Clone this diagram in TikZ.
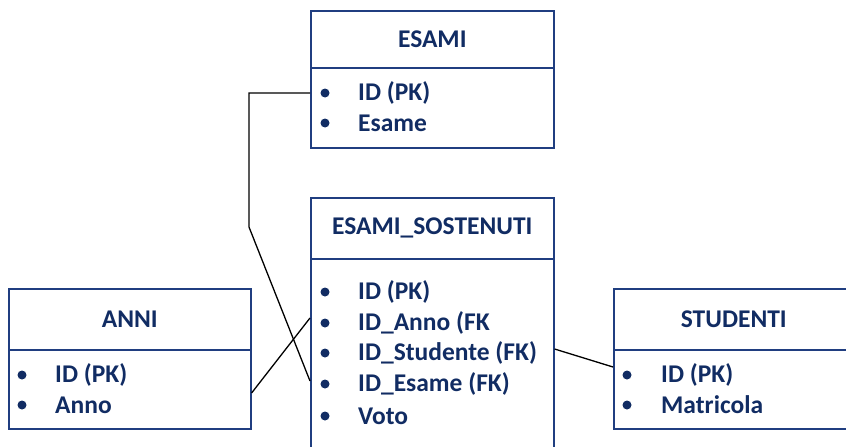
\documentclass[tikz,border=0pt]{standalone}
\usepackage{fontspec}
\setmainfont{Carlito}
\usetikzlibrary{calc}
\definecolor{navytext}{HTML}{112C63}
\definecolor{navyline}{HTML}{203E80}
\begin{document}
\begin{tikzpicture}[x=1pt,y=-1pt,
  box/.style={draw=navyline,line width=1.6pt,rectangle,anchor=north west,inner sep=0pt,
    minimum width=243pt,font=\bfseries\fontsize{25.5}{28}\selectfont,text=navytext},
  item/.style={anchor=west,inner sep=0pt,font=\bfseries\fontsize{25.5}{28}\selectfont,text=navytext},
  dot/.style={circle,fill=navytext,inner sep=0pt,minimum size=9pt},
  link/.style={draw=black,line width=1.3pt}]
\useasboundingbox (0,0) rectangle (846,447);
% ESAMI
\node[box,minimum height=57pt] (esamiT) at (310,10) {ESAMI};
\node[box,minimum height=80pt] (esamiB) at (310,67) {};
\node[dot] (ed1) at (325,93) {}; \node[item] (e1) at (358,93) {ID (PK)};
\node[dot] (ed2) at (325,123) {}; \node[item] (e2) at (358,123) {Esame};
% ESAMI_SOSTENUTI
\node[box,minimum height=61pt] (sostT) at (310,197) {ESAMI\_SOSTENUTI};
\node[box,minimum height=205pt] (sostB) at (310,258) {};
\node[dot] (sd1) at (325,292) {}; \node[item] (s1) at (358,292) {ID (PK)};
\node[dot] (sd2) at (325,323) {}; \node[item] (s2) at (358,323) {ID\_Anno (FK};
\node[dot] (sd3) at (325,353) {}; \node[item] (s3) at (358,353) {ID\_Studente (FK)};
\node[dot] (sd4) at (325,384) {}; \node[item] (s4) at (358,384) {ID\_Esame (FK)};
\node[dot] (sd5) at (325,416) {}; \node[item] (s5) at (358,416) {Voto};
% ANNI
\node[box,minimum width=242pt,minimum height=61pt] (anniT) at (8,288) {ANNI};
\node[box,minimum width=242pt,minimum height=79pt] (anniB) at (8,349) {};
\node[dot] (ad1) at (22,375) {}; \node[item] (a1) at (55,375) {ID (PK)};
\node[dot] (ad2) at (22,405) {}; \node[item] (a2) at (55,405) {Anno};
% STUDENTI
\node[box,minimum width=240pt,minimum height=61pt] (studT) at (613,288) {STUDENTI};
\node[box,minimum width=240pt,minimum height=79pt] (studB) at (613,349) {};
\node[dot] (td1) at (627,375) {}; \node[item] (t1) at (661,375) {ID (PK)};
\node[dot] (td2) at (627,405) {}; \node[item] (t2) at (661,405) {Matricola};
% connectors
\coordinate (k1) at (249,227);
\draw[link] ($(esamiB.north west)+(0,26)$) -| (k1) -- ($(sostB.north west)+(0,123)$);
\draw[link] ($(anniB.north east)+(0,44)$) -- ($(sostB.north west)+(0,60)$);
\draw[link] ($(sostB.north east)+(0,91)$) -- ($(studB.north west)+(0,18)$);
\end{tikzpicture}
\end{document}
